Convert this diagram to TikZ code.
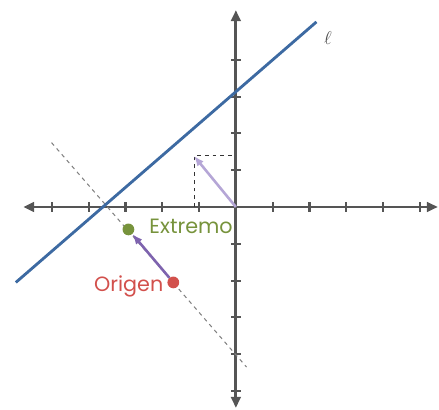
\documentclass[tikz,border=0pt]{standalone}
\usepackage{fontspec}
\setsansfont{Poppins}
\definecolor{AxisGray}{HTML}{555555}
\definecolor{LineBlue}{HTML}{3D6AA2}
\definecolor{VecPurple}{HTML}{7E63AE}
\definecolor{VecLilac}{HTML}{B5A6D6}
\definecolor{DotGreen}{HTML}{77933C}
\definecolor{DotRed}{HTML}{D2504C}
\usetikzlibrary{arrows.meta, positioning, calc}

\begin{document}
\begin{tikzpicture}[
    axis/.style={{Triangle[length=3mm, width=2.6mm]}-{Triangle[length=3mm, width=2.6mm]}, line width=2.2pt, AxisGray},
    axtick/.style={line width=1.6pt, AxisGray},
    perp/.style={dashed, line width=0.8pt, gray},
    guide/.style={dashed, line width=0.6pt, black!80},
    vec/.style={-{Latex[length=2.8mm, width=2.2mm]}, line width=2pt},
    dot/.style={circle, inner sep=0pt, minimum size=3.2mm},
    lbl/.style={font=\sffamily\fontsize{16}{16}\selectfont, inner sep=1pt}
  ]
  \useasboundingbox (-6.41,-5.49) rectangle (5.52,5.625);

  \coordinate (O) at (0,0);
  \coordinate (xL) at (-5.78,0);
  \coordinate (xR) at (5.49,0);
  \coordinate (yB) at (0,-5.46);
  \coordinate (yT) at (0,5.35);
  \draw[axis] (xL) -- (xR);
  \draw[axis] (yB) -- (yT);
  \foreach \k in {-5,...,-1,1,2,...,5}
    \draw[axtick] (\k,-0.13) -- (\k,0.13);
  \foreach \k in {-5,...,-1,1,2,3,4}
    \draw[axtick] (-0.13,\k) -- (0.13,\k);

  \coordinate (dA) at (-5.01,1.75);
  \coordinate (dB) at (0.29,-4.35);
  \draw[perp] (dA) -- (dB);

  \coordinate (lA) at (-5.98,-2.05);
  \coordinate (lB) at (2.19,5.03);
  \draw[LineBlue, line width=2.2pt] (lA) -- (lB);
  \node[text=black!70, font=\Large] (ell) at (2.5,4.59) {$\ell$};

  \coordinate (tip) at (-1.14,1.39);
  \draw[guide] (tip |- O) -- (tip) -- (tip -| O);
  \draw[vec, VecLilac] (O) -- (tip);

  \node[dot, fill=DotRed] (orig) at (-1.70,-2.05) {};
  \node[dot, fill=DotGreen] (ext) at (-2.92,-0.61) {};
  \draw[vec, VecPurple] (orig) -- (ext);

  \node[lbl, text=DotGreen, anchor=west] (extLbl) at (-2.39,-0.535) {Extremo};
  \node[lbl, text=DotRed, anchor=east] (origLbl) at (-1.93,-2.17) {Origen};
\end{tikzpicture}
\end{document}
